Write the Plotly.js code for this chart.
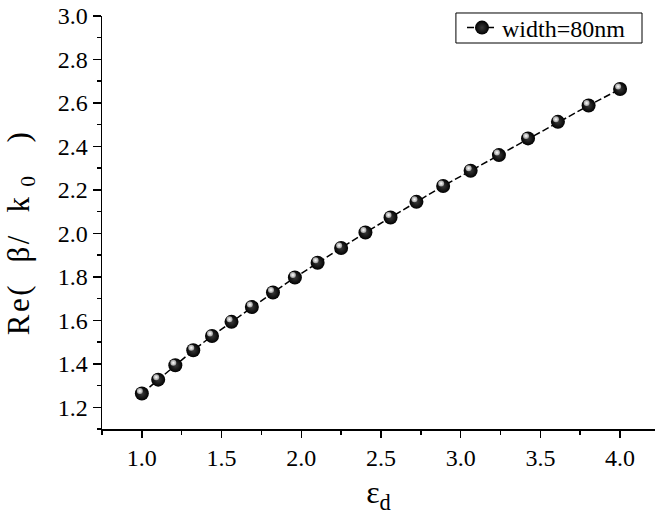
<!DOCTYPE html>
<html>
<head>
<meta charset="utf-8">
<script src="https://cdn.plot.ly/plotly-3.0.1.min.js"></script>
<style>
html,body{margin:0;padding:0;background:#fff;}
#chart{width:655px;height:526px;}
.ytitle {letter-spacing:2.5px;}
#chart .g-ytitle {transform: translate(0px, 10px);}
#chart .scatterlayer .trace:nth-child(2) {transform: translate(-2px,-2.5px);}
</style>
</head>
<body>
<div id="chart"></div>
<script>
// permittivity of dielectric (epsilon_d)
const epsD = [1.0, 1.1025, 1.21, 1.3225, 1.44, 1.5625, 1.69, 1.8225, 1.96, 2.1025, 2.25,
              2.4025, 2.56, 2.7225, 2.89, 3.0625, 3.24, 3.4225, 3.61, 3.8025, 4.0];
// Re(beta/k0)
const reBeta = [1.263, 1.327, 1.393, 1.462, 1.528, 1.593, 1.661, 1.728, 1.797, 1.865, 1.933,
                2.004, 2.073, 2.145, 2.218, 2.288, 2.360, 2.437, 2.513, 2.588, 2.664];
const seriesName = "width=80nm";
const xTitle = "ε<sub>d</sub>";
const yTitle = "Re(\u00a0\u00a0β/\u00a0\u00a0k<sub>\u00a00</sub>\u00a0\u00a0\u00a0)";

const serif = "Liberation Serif, Times New Roman, serif";

const trace = {
  x: epsD, y: reBeta, type: "scatter", mode: "lines+markers", name: seriesName,
  line: {color: "#000", width: 1.5, dash: "7px,3px"},
  marker: {size: 14, color: "#000", gradient: {type: "radial", color: "#3a3a3a"},
           line: {width: 0}}
};
// specular highlight on each sphere (same data, drawn on top)
const highlight = {
  x: epsD, y: reBeta, type: "scatter", mode: "markers", showlegend: false,
  hoverinfo: "skip",
  marker: {size: 6, color: "#999", gradient: {type: "radial", color: "#ffffff"},
           line: {width: 0}}
};

const layout = {
  width: 655, height: 526,
  margin: {l: 102, r: 0, t: 16, b: 97, pad: 0},
  paper_bgcolor: "#fff", plot_bgcolor: "#fff",
  showlegend: true,
  font: {family: serif, color: "#000", size: 24},
  xaxis: {
    range: [0.75, 4.219], dtick: 0.5, tick0: 0, tickformat: ".1f",
    ticks: "outside", ticklen: 7, tickwidth: 1.5, tickcolor: "#000",
    minor: {dtick: 0.25, ticks: "outside", ticklen: 4, tickwidth: 1.5, tickcolor: "#000"},
    showline: true, linecolor: "#000", linewidth: 1.5, mirror: false,
    showgrid: false, zeroline: false,
    tickfont: {family: serif, size: 24, color: "#000"},
    title: {text: xTitle, font: {family: serif, size: 32, color: "#000"}, standoff: 10}
  },
  yaxis: {
    range: [1.1, 3.0], dtick: 0.2, tick0: 0, tickformat: ".1f",
    ticks: "outside", ticklen: 8, tickwidth: 1.5, tickcolor: "#000",
    minor: {dtick: 0.1, ticks: "outside", ticklen: 4, tickwidth: 1.5, tickcolor: "#000"},
    showline: true, linecolor: "#000", linewidth: 1.5, mirror: false,
    showgrid: false, zeroline: false,
    tickfont: {family: serif, size: 24, color: "#000"},
    title: {text: yTitle, font: {family: serif, size: 31, color: "#000"}, standoff: 19}
  },
  legend: {
    x: 0.651, y: 0.971, xanchor: "left", yanchor: "middle",
    bgcolor: "rgba(0,0,0,0)", borderwidth: 0,
    font: {family: serif, size: 24, color: "#000"},
    itemwidth: 30, tracegroupgap: 0
  },
  shapes: [{
    type: "rect", xref: "paper", yref: "paper",
    x0: 0.640, x1: 0.9765, y0: 0.9346, y1: 1.0073,
    line: {color: "#000", width: 1}, fillcolor: "rgba(0,0,0,0)", layer: "above"
  }]
};

Plotly.newPlot("chart", [trace, highlight], layout, {staticPlot: true, displayModeBar: false});
</script>
</body>
</html>
